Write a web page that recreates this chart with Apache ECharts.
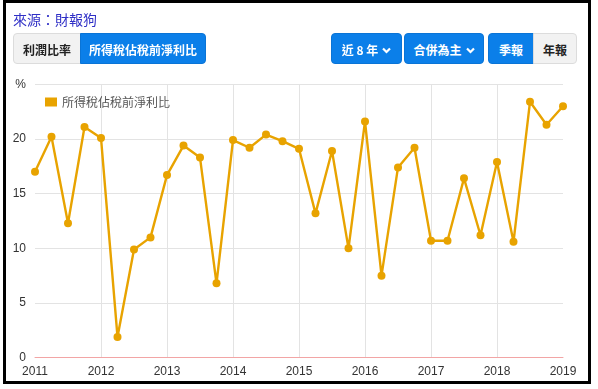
<!DOCTYPE html>
<html><head><meta charset="utf-8">
<script src="https://cdn.jsdelivr.net/npm/echarts@6/dist/echarts.min.js"></script>
<style>
html,body{margin:0;padding:0;width:598px;height:389px;background:#fff;overflow:hidden;font-family:"Noto Sans CJK TC","Noto Sans",sans-serif;}
#frame{position:absolute;left:3px;top:0;width:588px;height:384px;box-sizing:border-box;border:3px solid #000;z-index:3;pointer-events:none;}
#chart{position:absolute;left:0;top:0;width:598px;height:389px;z-index:1;}
.ui{position:absolute;z-index:2;}
#src{left:13px;top:9px;font-size:14px;color:#2f2fc6;line-height:20px;}
.btn{position:absolute;z-index:2;height:31px;line-height:31px;font-size:12px;font-weight:bold;text-align:center;box-sizing:border-box;}
.blue{background:#0b7fe9;color:#fff;border:1px solid #0a74d6;}
.grey{background:#f2f2f2;color:#222;border:1px solid #dcdcdc;}
.chev{display:inline-block;vertical-align:middle;margin-left:4px;margin-top:-2px;}
</style></head>
<body>
<div id="chart"></div>
<div id="frame"></div>
<div id="src" class="ui">來源：財報狗</div>
<div class="btn grey" style="left:13px;top:33px;width:68px;border-radius:4px 0 0 4px;">利潤比率</div>
<div class="btn blue" style="left:80px;top:33px;width:126px;border-radius:0 4px 4px 0;">所得稅佔稅前淨利比</div>
<div class="btn blue" style="left:331px;top:33px;width:71px;border-radius:4px;">近 8 年<svg class="chev" width="9" height="7" viewBox="0 0 9 7"><polyline points="1,1.5 4.5,5 8,1.5" fill="none" stroke="#fff" stroke-width="2.2"/></svg></div>
<div class="btn blue" style="left:404px;top:33px;width:80px;border-radius:4px;">合併為主<svg class="chev" width="9" height="7" viewBox="0 0 9 7"><polyline points="1,1.5 4.5,5 8,1.5" fill="none" stroke="#fff" stroke-width="2.2"/></svg></div>
<div class="btn blue" style="left:488px;top:33px;width:46px;border-radius:4px 0 0 4px;">季報</div>
<div class="btn grey" style="left:533px;top:33px;width:44px;border-radius:0 4px 4px 0;">年報</div>
<script>
const seriesName = '所得稅佔稅前淨利比';
const quarters = [];
const years = ['2011','2012','2013','2014','2015','2016','2017','2018','2019'];
const quarterNames = ['Q1','Q2','Q3','Q4'];
years.forEach(function(y, i){ quarterNames.forEach(function(q, j){ if (i < years.length - 1 || j === 0) quarters.push(y + q); }); });
const values = [17.0, 20.2, 12.3, 21.1, 20.1, 1.9, 9.9, 11.0,
                16.7, 19.4, 18.3, 6.8, 19.9, 19.2, 20.4, 19.8,
                19.1, 13.2, 18.9, 10.0, 21.6, 7.5, 17.4, 19.2,
                10.7, 10.7, 16.4, 11.2, 17.9, 10.6, 23.4, 21.3, 23.0];
const yTicks = [0, 5, 10, 15, 20, 25];
const yTopLabel = '%';

const chart = echarts.init(document.getElementById('chart'));
chart.setOption({
  animation: false,
  backgroundColor: 'transparent',
  grid: {left: 35, right: 35, top: 84.3, bottom: 31.3, containLabel: false},
  legend: {
    show: true, left: 40, top: 91, itemWidth: 12, itemHeight: 9, itemGap: 6,
    icon: 'rect',
    textStyle: {color: '#555', fontSize: 12, fontFamily: '"Noto Sans CJK TC", sans-serif'},
    data: [seriesName]
  },
  xAxis: {
    type: 'category', data: quarters, boundaryGap: false,
    axisLine: {show: true, lineStyle: {color: '#f2a5a5', width: 1}},
    axisTick: {show: false},
    axisLabel: {interval: 3, color: '#333', fontSize: 12, margin: 8, fontFamily: 'Arial, "Liberation Sans", sans-serif',
      formatter: function(v){ return v.slice(0, 4); }},
    splitLine: {show: true, interval: 3, showMinLine: false, showMaxLine: false, lineStyle: {color: '#e3e3e3'}}
  },
  yAxis: {
    type: 'value', min: yTicks[0], max: yTicks[yTicks.length - 1], interval: 5,
    axisLine: {show: false}, axisTick: {show: false},
    axisLabel: {color: '#333', fontSize: 12, margin: 9, fontFamily: 'Arial, "Liberation Sans", sans-serif',
      formatter: function(v){ return v === yTicks[yTicks.length - 1] ? yTopLabel : String(v); }},
    splitLine: {show: true, lineStyle: {color: '#e3e3e3'}}
  },
  series: [{
    name: seriesName, type: 'line', data: values,
    symbol: 'circle', symbolSize: 8, showSymbol: true,
    lineStyle: {color: '#e8a300', width: 2.4},
    itemStyle: {color: '#e8a300'}
  }]
});
</script>
</body></html>
